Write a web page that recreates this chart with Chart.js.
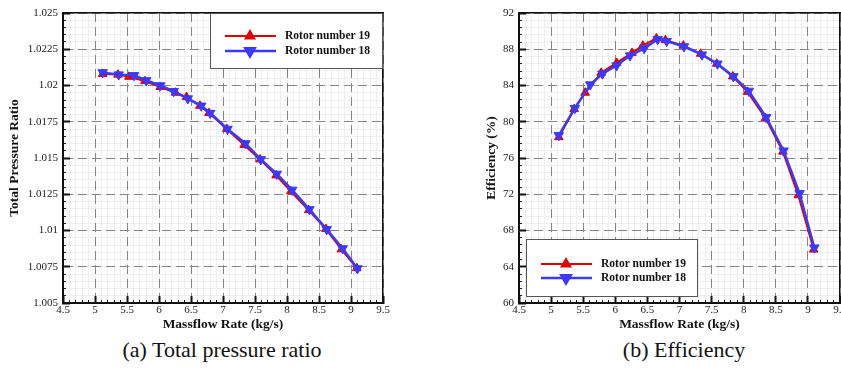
<!DOCTYPE html>
<html><head><meta charset="utf-8">
<script src="https://cdn.jsdelivr.net/npm/chart.js@4.4.1/dist/chart.umd.min.js"></script>
<style>
html,body{margin:0;padding:0;overflow:hidden;background:#fff;width:841px;height:378px;position:relative;}
.wrap{position:absolute;top:0;}
#w1{left:0;width:420px;height:336px;}
#w2{left:420px;width:460px;height:336px;}
.cap{position:absolute;top:337px;font-family:'Liberation Serif','Times New Roman',serif;font-size:22px;color:#111;white-space:nowrap;transform:translateX(-50%);}
</style></head>
<body>
<div class="wrap" id="w1"><canvas id="c1" width="420" height="336"></canvas></div>
<div class="wrap" id="w2"><canvas id="c2" width="460" height="336"></canvas></div>
<div class="cap" style="left:222px">(a) Total pressure ratio</div>
<div class="cap" style="left:684px">(b) Efficiency</div>
<script>
// ---- data ----
const seriesNames = ['Rotor number 19', 'Rotor number 18'];
const massflowRotor19 = [5.12, 5.36, 5.53, 5.78, 6.02, 6.26, 6.43, 6.64, 6.78, 7.06, 7.33, 7.58, 7.83, 8.06, 8.34, 8.61, 8.85, 9.09];
const massflowRotor18 = [5.12, 5.37, 5.61, 5.80, 6.02, 6.23, 6.45, 6.66, 6.80, 7.07, 7.35, 7.59, 7.84, 8.08, 8.35, 8.62, 8.87, 9.10];
const pressureRotor19 = [1.0208, 1.02075, 1.0206, 1.0203, 1.0199, 1.0195, 1.0192, 1.0186, 1.0181, 1.0170, 1.0159, 1.0149, 1.0138, 1.0127, 1.0114, 1.0101, 1.0087, 1.0074];
const pressureRotor18 = [1.0209, 1.02075, 1.0207, 1.02035, 1.0200, 1.0196, 1.0191, 1.0186, 1.0181, 1.0170, 1.0160, 1.0149, 1.0139, 1.0128, 1.01146, 1.01008, 1.00876, 1.00738];
const efficiencyRotor19 = [78.3, 81.4, 83.2, 85.4, 86.5, 87.6, 88.4, 89.2, 89.0, 88.4, 87.5, 86.4, 85.0, 83.3, 80.4, 76.7, 71.9, 65.9];
const efficiencyRotor18 = [78.5, 81.5, 84.1, 85.3, 86.2, 87.3, 88.1, 89.1, 88.9, 88.3, 87.4, 86.4, 85.0, 83.4, 80.5, 76.8, 72.1, 66.1];
const massflowTicks = [4.5, 5, 5.5, 6, 6.5, 7, 7.5, 8, 8.5, 9, 9.5];
const pressureTicks = [1.005, 1.0075, 1.01, 1.0125, 1.015, 1.0175, 1.02, 1.0225, 1.025];
const efficiencyTicks = [60, 64, 68, 72, 76, 80, 84, 88, 92];

const SERIF = "'Liberation Serif','Times New Roman',serif";
const RED = '#e00000', BLUE = '#3a3aff';

function pts(xs, ys) { return xs.map((x, i) => ({x: x, y: ys[i]})); }

const insideLegend = {
  id: 'insideLegend',
  afterDatasetsDraw(chart, args, o) {
    const {ctx, chartArea: a} = chart;
    const bx = o.corner === 'topRight' ? a.right - o.w : a.left + o.dx;
    const by = o.corner === 'topRight' ? a.top : a.bottom - o.dy - o.h;
    ctx.save();
    ctx.fillStyle = '#fff';
    ctx.fillRect(bx, by, o.w, o.h);
    ctx.strokeStyle = '#555';
    ctx.lineWidth = 1;
    ctx.strokeRect(bx + 0.5, by + 0.5, o.w - 1, o.h - 1);
    const dsOrder = [0, 1];
    dsOrder.forEach((di, k) => {
      const ds = chart.data.datasets[di];
      const y = by + o.row0 + k * o.rowGap;
      ctx.strokeStyle = ds.borderColor;
      ctx.lineWidth = ds.borderWidth;
      ctx.beginPath();
      ctx.moveTo(bx + 15, y);
      ctx.lineTo(bx + 66, y);
      ctx.stroke();
      ctx.fillStyle = ds.pointBackgroundColor;
      ctx.strokeStyle = ds.pointBorderColor;
      Chart.helpers.drawPoint(ctx, {pointStyle: 'triangle', rotation: ds.pointRotation, radius: ds.pointRadius, borderWidth: 1}, bx + 40, y);
      ctx.fillStyle = '#111';
      ctx.font = 'bold 11.5px ' + SERIF;
      ctx.textBaseline = 'middle';
      ctx.textAlign = 'left';
      ctx.fillText(ds.label, bx + 75, y + 0.5);
    });
    ctx.restore();
  }
};

function makeChart(id, cfg) {
  const tickFont = {family: SERIF, size: 11};
  const titleFont = {family: SERIF, size: 13.5, weight: 'bold', lineHeight: 1};
  const datasets = [
    {label: seriesNames[0], data: pts(massflowRotor19, cfg.y19), borderColor: RED, backgroundColor: RED,
     pointBackgroundColor: RED, pointBorderColor: RED, borderWidth: 2, pointStyle: 'triangle', pointRotation: 0,
     pointRadius: 5, pointBorderWidth: 1, tension: 0, order: 1, xAxisID: 'x', yAxisID: 'y'},
    {label: seriesNames[1], data: pts(massflowRotor18, cfg.y18), borderColor: BLUE, backgroundColor: BLUE,
     pointBackgroundColor: BLUE, pointBorderColor: BLUE, borderWidth: 2.5, pointStyle: 'triangle', pointRotation: 180,
     pointRadius: 5.5, pointBorderWidth: 1, tension: 0, order: 0, xAxisID: 'x', yAxisID: 'y'}
  ];
  return new Chart(document.getElementById(id), {
    type: 'line',
    data: {datasets: datasets},
    plugins: [insideLegend],
    options: {
      responsive: false, animation: false, devicePixelRatio: 1,
      layout: {padding: {top: 13, right: cfg.padRight, left: 0, bottom: 0}},
      plugins: {legend: {display: false}, tooltip: {enabled: false}, insideLegend: cfg.legend},
      scales: {
        x2: {type: 'linear', axis: 'x', position: 'bottom', weight: 0, min: 4.5, max: 9.5,
          ticks: {display: false, stepSize: 0.1},
          grid: {z: -2, color: '#eeeeee', lineWidth: 1, tickColor: '#222', tickWidth: 1, tickLength: -3},
          border: {display: false},
          afterFit: s => { s.height = 0; s.paddingLeft = 0; s.paddingRight = 0; }},
        y2: {type: 'linear', axis: 'y', position: 'left', weight: 0, min: cfg.yMin, max: cfg.yMax,
          ticks: {display: false, stepSize: cfg.yMinor},
          grid: {z: -2, color: '#eeeeee', lineWidth: 1, tickColor: '#222', tickWidth: 1, tickLength: -3},
          border: {display: false},
          afterFit: s => { s.width = 0; s.paddingTop = 0; s.paddingBottom = 0; }},
        x: {type: 'linear', axis: 'x', position: 'bottom', weight: 1, min: 4.5, max: 9.5,
          afterBuildTicks: s => { s.ticks = massflowTicks.map(v => ({value: v})); },
          afterFit: s => { s.height = 33; s.paddingLeft = 0; s.paddingRight = 0; },
          grid: {color: '#858585', lineWidth: 1, tickColor: '#111', tickWidth: 2, tickLength: -7},
          border: {display: true, color: '#111', width: 2, dash: [9, 5]},
          ticks: {padding: 8, font: tickFont, color: '#222', maxRotation: 0, autoSkip: false, callback: v => String(v)},
          title: {display: true, text: 'Massflow Rate (kg/s)', font: titleFont, color: '#111', padding: {top: 0, bottom: 5}}},
        y: {type: 'linear', axis: 'y', position: 'left', weight: 1, min: cfg.yMin, max: cfg.yMax,
          afterBuildTicks: s => { s.ticks = cfg.yTicks.map(v => ({value: v})); },
          afterFit: s => { s.width = cfg.yWidth; s.paddingTop = 0; s.paddingBottom = 0; },
          grid: {color: '#858585', lineWidth: 1, tickColor: '#111', tickWidth: 2, tickLength: -7},
          border: {display: true, color: '#111', width: 2, dash: [9, 5]},
          ticks: {padding: 12, font: tickFont, color: '#222', autoSkip: false, callback: v => String(v)},
          title: {display: true, text: cfg.yTitle, font: titleFont, color: '#111', padding: {top: cfg.yTitlePad, bottom: 0}}},
        xt: {type: 'linear', axis: 'x', position: 'top', min: 4.5, max: 9.5,
          ticks: {display: false}, grid: {display: false},
          border: {display: true, color: '#111', width: 1.5},
          afterFit: s => { s.height = 0; s.paddingLeft = 0; s.paddingRight = 0; }},
        yr: {type: 'linear', axis: 'y', position: 'right', min: cfg.yMin, max: cfg.yMax,
          ticks: {display: false}, grid: {display: false},
          border: {display: true, color: '#111', width: 1.5},
          afterFit: s => { s.width = 0; s.paddingTop = 0; s.paddingBottom = 0; }}
      }
    }
  });
}

makeChart('c1', {
  y19: pressureRotor19, y18: pressureRotor18, yMin: 1.005, yMax: 1.025, yMinor: 0.0005,
  yTicks: pressureTicks, yTitle: 'Total Pressure Ratio', yWidth: 63, yTitlePad: 8, padRight: 37,
  legend: {corner: 'topRight', w: 173, h: 56, row0: 23, rowGap: 15}
});
makeChart('c2', {
  y19: efficiencyRotor19, y18: efficiencyRotor18, yMin: 60, yMax: 92, yMinor: 0.8,
  yTicks: efficiencyTicks, yTitle: 'Efficiency (%)', yWidth: 99, yTitlePad: 65, padRight: 40,
  legend: {corner: 'bottomLeft', dx: 7, dy: 6, w: 172, h: 58, row0: 25, rowGap: 14}
});
</script>
</body></html>
